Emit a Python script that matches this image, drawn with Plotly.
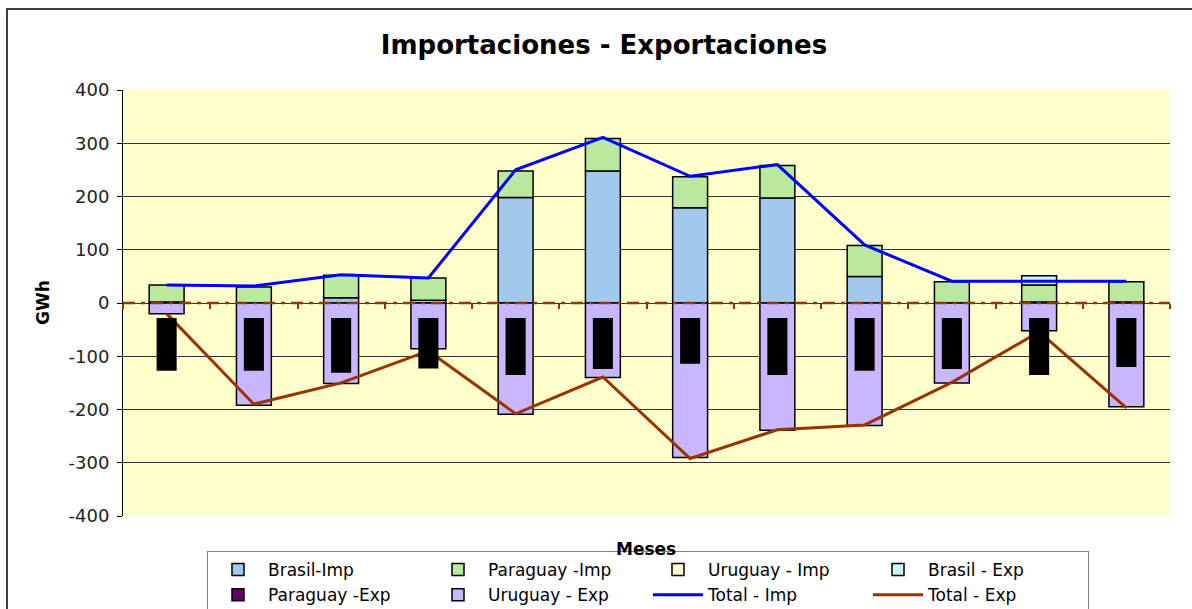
import plotly.graph_objects as go

# Monthly electricity trade (GWh): imports positive, exports negative
months = ["Ene", "Feb", "Mar", "Abr", "May", "Jun", "Jul", "Ago", "Sep", "Oct", "Nov", "Dic"]

brasil_imp = [2, 0, 10, 5, 198, 248, 179, 197, 50, 0, 2, 2]
paraguay_imp = [32, 30, 42, 42, 50, 61, 58, 61, 58, 40, 32, 38]
uruguay_imp = [0, 0, 0, 0, 0, 0, 0, 0, 0, 0, 0, 0]
brasil_exp = [0, 0, 0, 0, 0, 0, 0, 0, 0, 0, 17, 0]
paraguay_exp = [0, 0, 0, 0, 0, 0, 0, 0, 0, 0, 0, 0]
uruguay_exp = [-20, -192, -151, -86, -209, -140, -290, -239, -230, -150, -52, -195]

total_imp = [34, 32, 53, 47, 250, 311, 238, 260, 109, 41, 41, 41]
total_exp = [-20, -190, -150, -90, -208, -139, -292, -238, -229, -149, -54, -197]

# Solid black tabs covering the value labels of the export bars
tab_top = [-28, -28, -28, -28, -28, -28, -28, -28, -28, -28, -28, -28]
tab_bottom = [-127, -127, -131, -123, -135, -124, -114, -135, -127, -124, -135, -120]

y_ticks = [-400, -300, -200, -100, 0, 100, 200, 300, 400]
grid_ticks = [-300, -200, -100, 0, 100, 200, 300]

FONT = "DejaVu Sans"
EDGE = dict(color="#000000", width=1.5)


def nz(values):
    return [v if v != 0 else None for v in values]


fig = go.Figure()

bar_series = [
    ("Brasil-Imp", brasil_imp, "#A3C8EE"),
    ("Paraguay -Imp", paraguay_imp, "#B9E89E"),
    ("Uruguay - Imp", uruguay_imp, "#FFFFCC"),
    ("Brasil - Exp", brasil_exp, "#C8F4FA"),
    ("Paraguay -Exp", paraguay_exp, "#660066"),
    ("Uruguay - Exp", uruguay_exp, "#C8B6FF"),
]

for name, vals, fill in bar_series:
    fig.add_trace(go.Bar(
        x=months, y=nz(vals), name=name,
        marker=dict(color=fill, line=EDGE),
    ))

fig.add_trace(go.Scatter(
    x=months, y=total_imp, name="Total - Imp", mode="lines",
    line=dict(color="#0000FF", width=3),
))
fig.add_trace(go.Scatter(
    x=months, y=total_exp, name="Total - Exp", mode="lines",
    line=dict(color="#993300", width=3),
))

tab_height = [b - t for t, b in zip(tab_top, tab_bottom)]
fig.add_trace(go.Bar(
    x=months, y=tab_height, base=tab_top, width=0.23,
    marker=dict(color="#000000", line=dict(width=0)),
    showlegend=False, hoverinfo="skip",
    xaxis="x2", yaxis="y2",
))

fig.update_layout(
    width=1192, height=609,
    margin=dict(l=123, r=22, t=90, b=93),
    paper_bgcolor="#FFFFFF",
    plot_bgcolor="#FFFFCC",
    barmode="relative",
    bargap=0.6,
    font=dict(family=FONT, size=17, color="#000000"),
    title=dict(
        text="<b>Importaciones - Exportaciones</b>",
        font=dict(family=FONT, size=26, color="#000000"),
        x=0.5067, xanchor="center", xref="container",
        y=1 - 45 / 609, yanchor="middle", yref="container",
    ),
    xaxis=dict(
        type="category", categoryorder="array", categoryarray=months,
        anchor="free", position=0.5,
        showticklabels=False, showgrid=False, showline=False, zeroline=False,
        ticks="outside", tickson="boundaries", ticklen=5,
        tickcolor="#993300", tickwidth=2,
    ),
    xaxis2=dict(
        type="category", categoryorder="array", categoryarray=months,
        overlaying="x", matches="x", visible=False,
    ),
    yaxis=dict(
        range=[-400, 400], tickvals=y_ticks, ticktext=[str(v) for v in y_ticks],
        showgrid=False, zeroline=False,
        showline=True, linecolor="#000000", linewidth=1,
        ticks="outside", ticklen=5, tickcolor="#000000",
        tickfont=dict(family=FONT, size=18, color="#222222"),
        ticklabelstandoff=4,
    ),
    yaxis2=dict(
        overlaying="y", matches="y", anchor="x2",
        tickvals=grid_ticks, showticklabels=False, ticks="",
        showgrid=True, gridcolor="#333333", gridwidth=1,
        zeroline=False, showline=False,
    ),
    legend=dict(
        orientation="h",
        xref="container", x=207 / 1192, xanchor="left",
        yref="container", y=(609 - 551) / 609, yanchor="top",
        bgcolor="#FFFFFF", bordercolor="#808080", borderwidth=1,
        font=dict(family=FONT, size=17, color="#000000"),
        itemwidth=50, entrywidth=155, entrywidthmode="pixels",
        traceorder="normal",
    ),
    annotations=[
        dict(text="<b>GWh</b>", textangle=-90, showarrow=False,
             xref="paper", yref="paper", x=(43 - 123) / 1047, y=0.5,
             xanchor="center", yanchor="middle",
             font=dict(family=FONT, size=17, color="#000000")),
        dict(text="<b>Meses</b>", showarrow=False,
             xref="paper", yref="paper", x=(646 - 123) / 1047, y=(516 - 549) / 426,
             xanchor="center", yanchor="middle",
             font=dict(family=FONT, size=17, color="#000000")),
    ],
    shapes=[
        # dash-dot reference line at zero
        dict(type="line", xref="paper", yref="y", x0=0, x1=1, y0=0, y1=0,
             line=dict(color="#993300", width=2.5, dash="12px,6px,4px,6px"),
             layer="above"),
        # chart frame
        dict(type="rect", xref="paper", yref="paper",
             x0=(7 - 123) / 1047, x1=1.2, y0=-0.5, y1=(516 - 9) / 426,
             line=dict(color="#000000", width=1.5), layer="below"),
    ],
)

fig.write_html("out.html")
